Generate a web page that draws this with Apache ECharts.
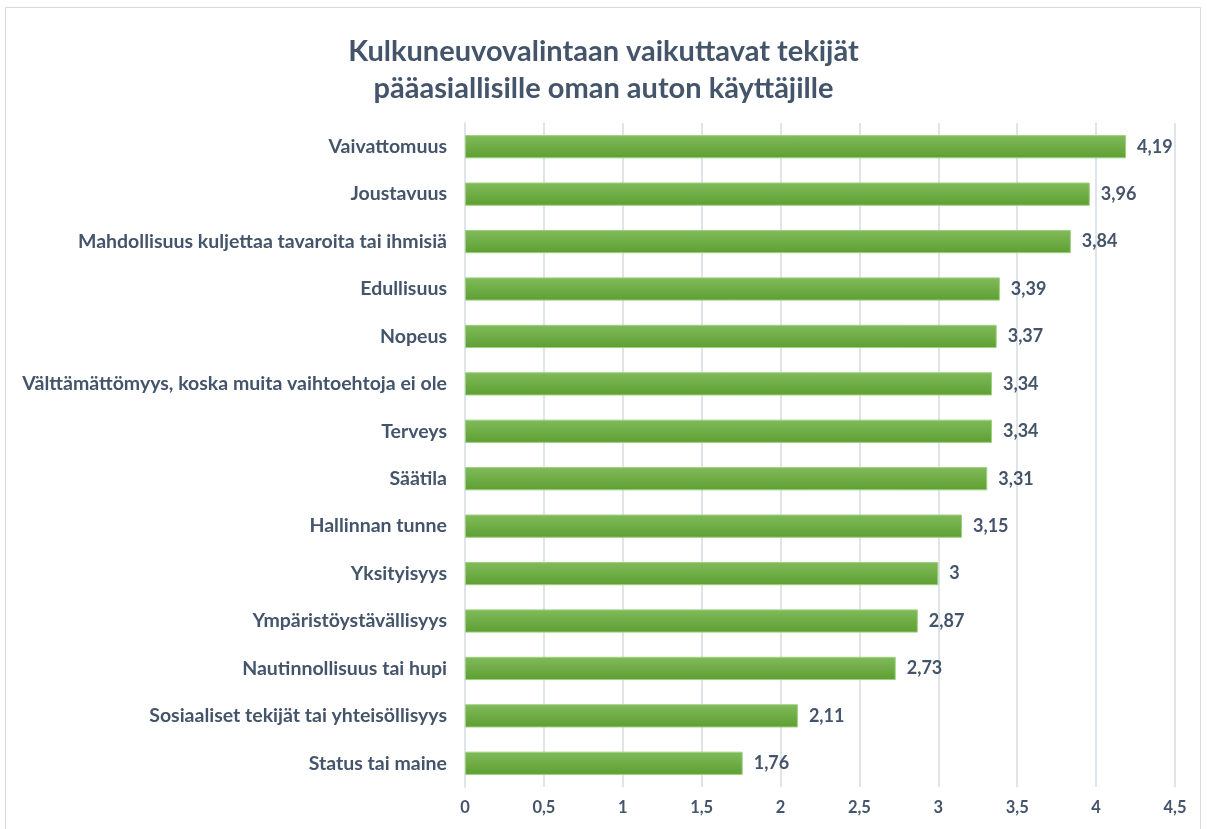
<!DOCTYPE html>
<html><head><meta charset="utf-8">
<script src="https://cdn.jsdelivr.net/npm/echarts@6/dist/echarts.min.js"></script>
<style>
html,body{margin:0;padding:0;background:#fff;}
#c{width:1207px;height:829px;}
#b{position:absolute;left:5px;top:7px;width:1194px;height:840px;border:1px solid #d9d9d9;pointer-events:none;}
</style></head>
<body><div id="c"></div><div id="b"></div>
<script>
const titleLines = ["Kulkuneuvovalintaan vaikuttavat tekijät", "pääasiallisille oman auton käyttäjille"];
const categories = ["Vaivattomuus","Joustavuus","Mahdollisuus kuljettaa tavaroita tai ihmisiä","Edullisuus","Nopeus","Välttämättömyys, koska muita vaihtoehtoja ei ole","Terveys","Säätila","Hallinnan tunne","Yksityisyys","Ympäristöystävällisyys","Nautinnollisuus tai hupi","Sosiaaliset tekijät tai yhteisöllisyys","Status tai maine"];
const values = [4.19,3.96,3.84,3.39,3.37,3.34,3.34,3.31,3.15,3,2.87,2.73,2.11,1.76];
const xTicks = [0,0.5,1,1.5,2,2.5,3,3.5,4,4.5];

const fmt = v => String(v).replace('.', ',');
const textColor = '#44546A';
const font = 'Lato';
const chart = echarts.init(document.getElementById('c'));
chart.setOption({
  animation:false,
  title:{text:titleLines.join('\n'),left:'center',top:28,textStyle:{fontFamily:font,fontWeight:'bold',fontSize:29,color:textColor,lineHeight:37}},
  grid:{left:465,right:32,top:123,bottom:42},
  xAxis:{type:'value',min:xTicks[0],max:xTicks[xTicks.length-1],interval:0.5,
    axisLine:{show:false},axisTick:{show:false},
    splitLine:{lineStyle:{color:'#dfe3ea',width:2}},
    axisLabel:{formatter:v=>fmt(v),fontFamily:font,fontWeight:'bold',fontSize:16.5,color:textColor,margin:12}},
  yAxis:{type:'category',data:categories,inverse:true,
    axisLine:{show:true,lineStyle:{color:'#dfe3ea',width:2}},axisTick:{show:false},
    axisLabel:{fontFamily:font,fontWeight:'bold',fontSize:19.5,color:textColor,margin:18}},
  series:[{type:'bar',data:values,barWidth:'49%',
    itemStyle:{color:new echarts.graphic.LinearGradient(0,0,0,1,[{offset:0,color:'#81bb5b'},{offset:1,color:'#5d9f32'}]),borderColor:'#9fd07f',borderWidth:1},
    label:{show:true,position:'right',distance:11,formatter:p=>fmt(p.value),fontFamily:font,fontWeight:'bold',fontSize:18,color:textColor}}]
});
</script></body></html>
